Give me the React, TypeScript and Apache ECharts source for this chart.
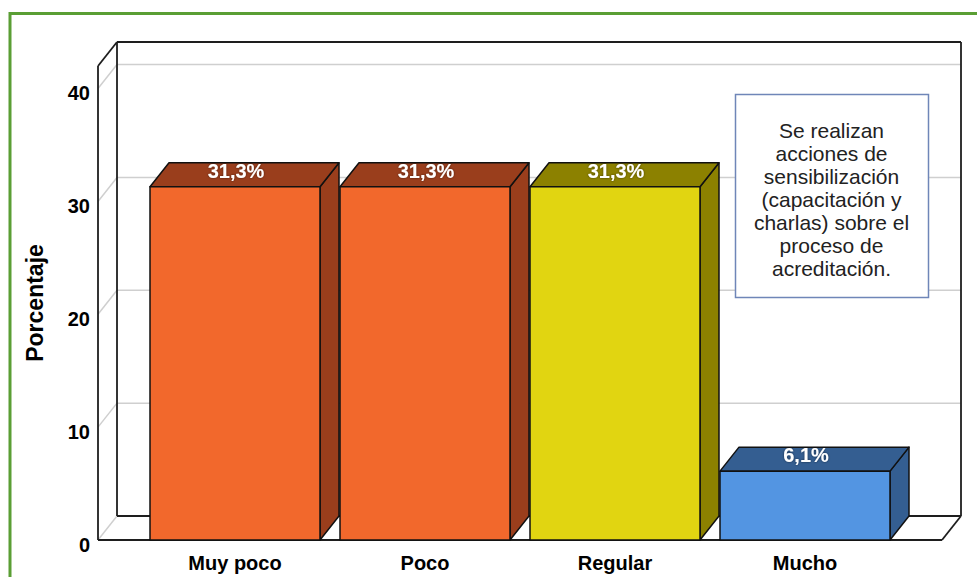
import React, { useEffect, useRef } from "react";
import * as echarts from "echarts";

const CATEGORIES = ["Muy poco", "Poco", "Regular", "Mucho"];
const VALUES = [31.3, 31.3, 31.3, 6.1];
const FRONT_COLORS = ["#F2682C", "#F2682C", "#E1D511", "#5395E2"];
const SHADE_COLORS = ["#9A3E1C", "#9A3E1C", "#8C8100", "#345E91"];
const Y_TICKS = [0, 10, 20, 30, 40];
const Y_MAX = 42;
const NOTE_LINES = [
  "Se realizan",
  "acciones de",
  "sensibilización",
  "(capacitación y",
  "charlas) sobre el",
  "proceso de",
  "acreditación.",
];

const DX = 19;
const DY = 24;
const BAR_W = 170;
const SIDE = 42;
const FONT = '"Liberation Sans", Arial, sans-serif';
const DARK = "#1e1e1e";
const GRIDC = "#cfcfcf";

function fmt(v: number) {
  return v.toFixed(1).replace(".", ",") + "%";
}

export default function App() {
  const ref = useRef<HTMLDivElement>(null);
  useEffect(() => {
    if (!ref.current) return;
    const chart = echarts.init(ref.current, null, { renderer: "svg" });
    const option: any = {
      animation: false,
      backgroundColor: "#ffffff",
      grid: { left: 140, right: 77, top: 66, bottom: 37 },
      xAxis: {
        type: "category",
        data: CATEGORIES,
        axisLine: { show: false },
        axisTick: { show: false },
        splitLine: { show: false },
        axisLabel: {
          margin: 13,
          color: "#000",
          fontFamily: FONT,
          fontWeight: "bold",
          fontSize: 20,
        },
      },
      yAxis: {
        type: "value",
        min: 0,
        max: Y_MAX,
        interval: 10,
        name: "Porcentaje",
        nameLocation: "middle",
        nameGap: 94,
        nameRotate: 90,
        nameTextStyle: {
          color: "#000",
          fontFamily: FONT,
          fontWeight: "bold",
          fontSize: 23,
        },
        axisLine: { show: false },
        axisTick: { show: false },
        splitLine: { show: false },
        axisLabel: {
          margin: 50,
          showMaxLabel: false,
          formatter: (v: number) => (Y_TICKS.indexOf(v) >= 0 ? "{t|" + v + "}" : ""),
          rich: {
            t: {
              color: "#000",
              fontFamily: FONT,
              fontWeight: "bold",
              fontSize: 20,
              padding: [9, 0, 0, 0],
            },
          },
        },
      },
      series: [
        {
          type: "custom",
          z: 1,
          silent: true,
          data: [[0, 0]],
          renderItem: (params: any, api: any) => {
            const cs = params.coordSys;
            const fl = cs.x - SIDE;
            const fr = cs.x + cs.width + SIDE;
            const y0 = api.coord([0, 0])[1];
            const yTop = api.coord([0, Y_MAX])[1];
            const children: any[] = [];
            const line = (x1: number, y1: number, x2: number, y2: number, c: string, w: number) =>
              children.push({
                type: "line",
                shape: { x1, y1, x2, y2 },
                style: { stroke: c, lineWidth: w },
              });
            Y_TICKS.forEach((t) => {
              const y = api.coord([0, t])[1];
              line(fl, y, fl + DX, y - DY, GRIDC, 1.5);
              if (t > 0) line(fl + DX, y - DY, fr + DX, y - DY, GRIDC, 1.5);
            });
            line(fl + DX, y0 - DY, fr + DX, y0 - DY, DARK, 1.8);
            line(fr, y0, fr + DX, y0 - DY, DARK, 1.8);
            line(fl + DX, yTop - DY, fl + DX, y0 - DY, DARK, 1.8);
            line(fl + DX, yTop - DY, fr + DX, yTop - DY, DARK, 1.8);
            line(fr + DX, yTop - DY, fr + DX, y0 - DY, DARK, 1.8);
            line(fl, yTop, fl + DX, yTop - DY, DARK, 1.8);
            line(fl, yTop, fl, y0, DARK, 1.8);
            line(fl, y0, fr, y0, DARK, 1.8);
            return { type: "group", children };
          },
        },
        {
          type: "custom",
          z: 5,
          data: VALUES.map((v, i) => [i, v]),
          encode: { x: 0, y: 1 },
          renderItem: (params: any, api: any) => {
            const i = api.value(0);
            const v = api.value(1);
            const top = api.coord([i, v]);
            const base = api.coord([i, 0]);
            const cx = top[0];
            const l = cx - BAR_W / 2;
            const r = cx + BAR_W / 2;
            const ty = top[1];
            const by = base[1];
            const stroke = { stroke: "#111", lineWidth: 1.5, lineJoin: "round" };
            return {
              type: "group",
              children: [
                {
                  type: "polygon",
                  shape: { points: [[r, ty], [r + DX, ty - DY], [r + DX, by - DY], [r, by]] },
                  style: { fill: SHADE_COLORS[i], ...stroke },
                },
                {
                  type: "polygon",
                  shape: { points: [[l, ty], [l + DX, ty - DY], [r + DX, ty - DY], [r, ty]] },
                  style: { fill: SHADE_COLORS[i], ...stroke },
                },
                {
                  type: "rect",
                  shape: { x: l, y: ty, width: BAR_W, height: by - ty },
                  style: { fill: FRONT_COLORS[i], ...stroke },
                },
                {
                  type: "text",
                  x: cx + 1,
                  y: ty - 16,
                  style: {
                    text: fmt(v),
                    fill: "#ffffff",
                    font: `bold 20px ${FONT}`,
                    align: "center",
                    verticalAlign: "middle",
                    textShadowColor: "rgba(0,0,0,0.55)",
                    textShadowBlur: 2,
                  },
                },
              ],
            };
          },
        },
      ],
      graphic: [
        {
          type: "rect",
          z: 100,
          silent: true,
          shape: { x: 10, y: 13.5, width: 1200, height: 1200 },
          style: { fill: "none", stroke: "#5a9e34", lineWidth: 3 },
        },
        {
          type: "rect",
          z: 50,
          shape: { x: 735.5, y: 94.5, width: 193, height: 203 },
          style: { fill: "#ffffff", stroke: "#6f86b8", lineWidth: 1.5 },
        },
        {
          type: "text",
          z: 51,
          x: 831.5,
          y: 199.5,
          style: {
            text: NOTE_LINES.join("\n"),
            font: `21px ${FONT}`,
            lineHeight: 23,
            fill: "#222222",
            align: "center",
            verticalAlign: "middle",
          },
        },
      ],
    };
    chart.setOption(option);
    return () => chart.dispose();
  }, []);
  return (
    <div
      ref={ref}
      style={{ position: "absolute", left: 0, top: 0, width: 977, height: 577 }}
    />
  );
}
